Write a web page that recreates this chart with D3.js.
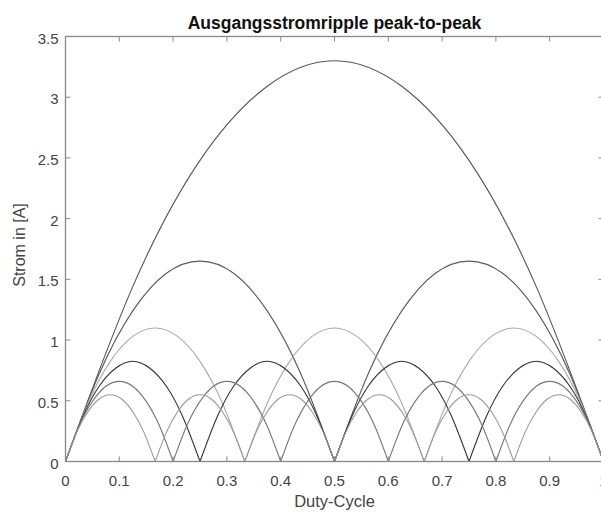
<!DOCTYPE html>
<html><head><meta charset="utf-8">
<script src="https://cdn.jsdelivr.net/npm/d3@7"></script>
<style>body{margin:0;background:#fff;}svg{display:block;}</style>
</head><body>
<script>
const phases = [1, 2, 3, 4, 5, 6];
const ripple1 = [0,1.44,2.48,3.09,3.3,3.09,2.48,1.44,0];
const ripple2 = [0,0.72,1.24,1.55,1.65,1.55,1.24,0.72,0, 0.72,1.24,1.55,1.65,1.55,1.24,0.72,0];
const ripple3 = [0,0.48,0.825,1.03,1.1,1.03,0.825,0.48,0, 0.48,0.825,1.03,1.1,1.03,0.825,0.48,0, 0.48,0.825,1.03,1.1,1.03,0.825,0.48,0];
const ripple4 = [0,0.36,0.62,0.77,0.825,0.77,0.62,0.36,0, 0.36,0.62,0.77,0.825,0.77,0.62,0.36,0, 0.36,0.62,0.77,0.825,0.77,0.62,0.36,0, 0.36,0.62,0.77,0.825,0.77,0.62,0.36,0];
const ripple5 = [0,0.29,0.495,0.62,0.66,0.62,0.495,0.29,0, 0.29,0.495,0.62,0.66,0.62,0.495,0.29,0, 0.29,0.495,0.62,0.66,0.62,0.495,0.29,0, 0.29,0.495,0.62,0.66,0.62,0.495,0.29,0, 0.29,0.495,0.62,0.66,0.62,0.495,0.29,0];
const ripple6 = [0,0.24,0.41,0.515,0.55,0.515,0.41,0.24,0, 0.24,0.41,0.515,0.55,0.515,0.41,0.24,0, 0.24,0.41,0.515,0.55,0.515,0.41,0.24,0, 0.24,0.41,0.515,0.55,0.515,0.41,0.24,0, 0.24,0.41,0.515,0.55,0.515,0.41,0.24,0, 0.24,0.41,0.515,0.55,0.515,0.41,0.24,0];
const seriesValues = [ripple1, ripple2, ripple3, ripple4, ripple5, ripple6];
const seriesColors = ["#555", "#5a5a5a", "#aaa", "#333", "#777", "#999"];
const xTicks = [0,0.1,0.2,0.3,0.4,0.5,0.6,0.7,0.8,0.9,1];
const yTicks = [0,0.5,1,1.5,2,2.5,3,3.5];
const xTickLabels = ["0","0.1","0.2","0.3","0.4","0.5","0.6","0.7","0.8","0.9","1"];
const yTickLabels = ["0","0.5","1","1.5","2","2.5","3","3.5"];

const W = 601, H = 513;
const m = {left: 65.5, right: 603.5, top: 36.5, bottom: 461.5};
const svg = d3.select("body").append("svg").attr("width", W).attr("height", H);
const x = d3.scaleLinear().domain([0,1]).range([m.left, m.right]);
const y = d3.scaleLinear().domain([0,3.5]).range([m.bottom, m.top]);
const font = "Helvetica, Arial, 'Liberation Sans', sans-serif";

// curves: each series split into arches at zeros
const g = svg.append("g");
seriesValues.forEach((vals, si) => {
  const N = phases[si];
  const pts = vals.map((v, i) => [i / (8 * N), v]);
  const arches = [];
  for (let k = 0; k + 8 < pts.length; k += 8) arches.push(pts.slice(k, k + 9));
  const line = d3.line().x(d => x(d[0])).y(d => y(d[1])).curve(d3.curveNatural);
  arches.forEach(a => {
    g.append("path").attr("d", line(a)).attr("fill", "none")
      .attr("stroke", seriesColors[si]).attr("stroke-width", 1.1);
  });
});

// axes (box style, inward ticks)
const axisColor = "#888";
const tl = 5;
const ax = svg.append("g").attr("stroke", axisColor).attr("stroke-width", 1.3);
ax.append("rect").attr("x", m.left).attr("y", m.top).attr("width", m.right - m.left)
  .attr("height", m.bottom - m.top).attr("fill", "none");
xTicks.forEach(t => {
  ax.append("line").attr("x1", x(t)).attr("x2", x(t)).attr("y1", m.bottom).attr("y2", m.bottom - tl).attr("stroke-width", 1);
  ax.append("line").attr("x1", x(t)).attr("x2", x(t)).attr("y1", m.top).attr("y2", m.top + tl).attr("stroke-width", 1);
});
yTicks.forEach(t => {
  ax.append("line").attr("x1", m.left).attr("x2", m.left + tl).attr("y1", y(t)).attr("y2", y(t)).attr("stroke-width", 1);
  ax.append("line").attr("x1", m.right).attr("x2", m.right - tl).attr("y1", y(t)).attr("y2", y(t)).attr("stroke-width", 1);
});

const txtColor = "#444";
xTicks.forEach((t, i) => {
  svg.append("text").attr("x", x(t)).attr("y", m.bottom + 24).attr("text-anchor", "middle")
    .attr("font-family", font).attr("font-size", 15).attr("fill", txtColor).text(xTickLabels[i]);
});
yTicks.forEach((t, i) => {
  svg.append("text").attr("x", m.left - 7).attr("y", y(t) + 7).attr("text-anchor", "end")
    .attr("font-family", font).attr("font-size", 15).attr("fill", txtColor).text(yTickLabels[i]);
});

svg.append("text").attr("x", (m.left + m.right) / 2).attr("y", 507).attr("text-anchor", "middle")
  .attr("font-family", font).attr("font-size", 16.5).attr("fill", txtColor).text("Duty-Cycle");
svg.append("text").attr("transform", `translate(25,${(m.top + m.bottom) / 2 - 4}) rotate(-90)`)
  .attr("text-anchor", "middle").attr("font-family", font).attr("font-size", 16)
  .attr("fill", txtColor).text("Strom in [A]");
svg.append("text").attr("x", (m.left + m.right) / 2).attr("y", 29).attr("text-anchor", "middle")
  .attr("font-family", font).attr("font-size", 17.5).attr("font-weight", "bold").attr("fill", "#111")
  .text("Ausgangsstromripple peak-to-peak");
</script>
</body></html>
